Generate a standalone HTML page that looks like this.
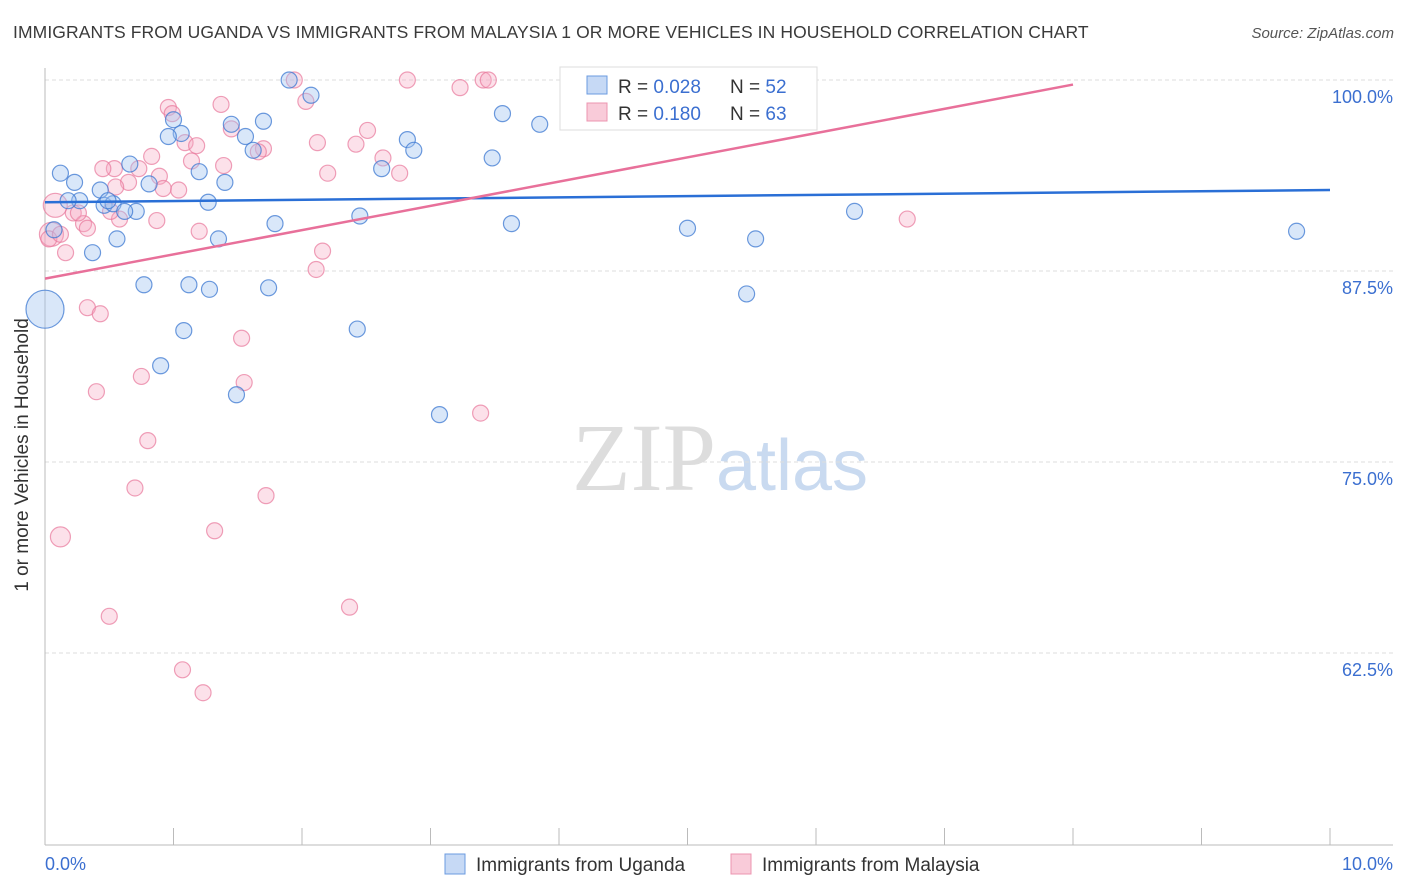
<!DOCTYPE html>
<html><head><meta charset="utf-8"><style>
body{margin:0;background:#fff;font-family:"Liberation Sans",sans-serif;}
#wrap{position:relative;width:1406px;height:892px;overflow:hidden;}
.title{position:absolute;left:13px;top:22px;font-size:17.5px;color:#3a3a3a;letter-spacing:0.1px}
.src{position:absolute;right:12px;top:25px;font-size:15px;color:#555;font-style:italic}
</style></head><body>
<div id="wrap">
<div class="title">IMMIGRANTS FROM UGANDA VS IMMIGRANTS FROM MALAYSIA 1 OR MORE VEHICLES IN HOUSEHOLD CORRELATION CHART</div>
<div class="src">Source: ZipAtlas.com</div>
<svg id="svg" width="1406" height="892" style="position:absolute;left:0;top:0">
<text x="720" y="490" text-anchor="middle" font-family="Liberation Serif" font-size="96" fill="#ddd">ZIP<tspan fill="#c9daf0" font-family="Liberation Sans" font-size="72">atlas</tspan></text>
<g id="grid"></g><g id="pts"></g><g id="lines"></g>
<text x="28" y="455" transform="rotate(-90 28 455)" text-anchor="middle" font-size="19" fill="#333">1 or more Vehicles in Household</text>
<text x="45" y="870" font-size="18" fill="#3b6fd0">0.0%</text>
<text x="1393" y="870" text-anchor="end" font-size="18" fill="#3b6fd0">10.0%</text>
<g>
<rect x="560" y="67" width="257" height="63" fill="#fff" stroke="#ddd"/>
<rect x="587" y="76" width="20" height="18" fill="#c6d9f5" stroke="#6b9be0"/>
<rect x="587" y="103" width="20" height="18" fill="#f9cbd9" stroke="#ec94b0"/>
<text x="618" y="93" font-size="19" fill="#333">R = <tspan fill="#3b6fd0">0.028</tspan><tspan x="730">N = </tspan><tspan fill="#3b6fd0">52</tspan></text>
<text x="618" y="120" font-size="19" fill="#333">R = <tspan fill="#3b6fd0">0.180</tspan><tspan x="730">N = </tspan><tspan fill="#3b6fd0">63</tspan></text>
</g>
<g>
<rect x="445" y="854" width="20" height="20" fill="#c6d9f5" stroke="#6b9be0"/>
<text x="476" y="871" font-size="19" fill="#333">Immigrants from Uganda</text>
<rect x="731" y="854" width="20" height="20" fill="#f9cbd9" stroke="#ec94b0"/>
<text x="762" y="871" font-size="19" fill="#333">Immigrants from Malaysia</text>
</g>
</svg>
</div>
<script>
const yTicks=[100,87.5,75,62.5];
const yTickLabels=["100.0%","87.5%","75.0%","62.5%"];
const xTicks=[0,1,2,3,4,5,6,7,8,9,10];
// values: x in %, y in %
const ugandaX=[1.90,2.07,3.56,3.85,1.70,1.06,0.96,1.00,1.45,1.56,1.62,2.82,2.87,3.48,2.62,1.20,0.66,0.81,0.43,0.27,0.18,0.46,0.53,0.71,1.79,3.63,5.00,1.35,0.12,0.37,0.62,2.45,6.30,1.27,1.40,0.23,0.07,0.56,5.53,9.74,0.00,0.77,1.12,1.28,1.74,5.46,1.08,2.43,0.90,1.49,3.07,0.49];
const ugandaY=[100,99.0,97.8,97.1,97.3,96.5,96.3,97.4,97.1,96.3,95.4,96.1,95.4,94.9,94.2,94.0,94.5,93.2,92.8,92.1,92.1,91.8,91.9,91.4,90.6,90.6,90.3,89.6,93.9,88.7,91.4,91.1,91.4,92.0,93.3,93.3,90.2,89.6,89.6,90.1,85.0,86.6,86.6,86.3,86.4,86.0,83.6,83.7,81.3,79.4,78.1,92.1];
const ugandaR=[8,8,8,8,8,8,8,8,8,8,8,8,8,8,8,8,8,8,8,8,8,8,8,8,8,8,8,8,8,8,8,8,8,8,8,8,8,8,8,8,19,8,8,8,8,8,8,8,8,8,8,8];
const malaysiaX=[1.94,2.82,3.41,3.45,3.23,2.03,1.37,0.96,0.99,1.45,2.12,2.42,2.51,1.70,1.66,1.09,1.18,1.14,0.83,0.54,0.45,0.73,1.39,2.63,2.76,2.20,0.89,0.65,0.55,1.04,0.92,0.08,0.22,0.30,0.33,0.58,0.87,1.20,6.71,0.05,0.03,0.16,2.16,2.11,0.33,0.43,1.53,0.75,1.55,0.40,0.80,3.39,0.70,1.72,1.32,0.12,2.37,0.50,1.07,1.23,0.26,0.51,0.12];
const malaysiaY=[100,100,100,100,99.5,98.6,98.4,98.2,97.8,96.8,95.9,95.8,96.7,95.5,95.3,95.9,95.7,94.7,95.0,94.2,94.2,94.2,94.4,94.9,93.9,93.9,93.7,93.3,93.0,92.8,92.9,91.8,91.3,90.6,90.3,90.9,90.8,90.1,90.9,89.9,89.6,88.7,88.8,87.6,85.1,84.7,83.1,80.6,80.2,79.6,76.4,78.2,73.3,72.8,70.5,70.1,65.5,64.9,61.4,59.9,91.3,91.4,89.9];
const malaysiaR=[8,8,8,8,8,8,8,8,8,8,8,8,8,8,8,8,8,8,8,8,8,8,8,8,8,8,8,8,8,8,8,12,8,8,8,8,8,8,8,12,8,8,8,8,8,8,8,8,8,8,8,8,8,8,8,10,8,8,8,8,8,8,8];
const ugandaTrend=[0,92.0,10,92.8];
const malaysiaTrend=[0,87.0,8,99.7];
const sx=v=>45+v*128.5;
const sy=v=>80+(100-v)*15.28;
const NS="http://www.w3.org/2000/svg";
function mk(t,a,p){const e=document.createElementNS(NS,t);for(const k in a)e.setAttribute(k,a[k]);p.appendChild(e);return e;}
const grid=document.getElementById('grid'),pts=document.getElementById('pts'),lines=document.getElementById('lines');
yTicks.forEach((v,i)=>{
 const l=mk('line',{x1:45,x2:1393,y1:sy(v),y2:sy(v),stroke:'#ddd','stroke-dasharray':'4,3'},grid);
 
 
 const t=mk('text',{x:1393,y:sy(v)+23,'text-anchor':'end','font-size':18,fill:'#3b6fd0'},grid);
 t.textContent=yTickLabels[i];
 
 
});
const ax=mk('line',{x1:45,x2:45,y1:68,y2:845,stroke:'#bbb'},grid);


const bx=mk('line',{x1:45,x2:1393,y1:845,y2:845,stroke:'#bbb'},grid);


xTicks.forEach(v=>{
 const l=mk('line',{x1:sx(v),x2:sx(v),y1:828,y2:845,stroke:'#bbb'},grid);
 
 
});
function drawPts(X,Y,R,fill,stroke,name){
 X.forEach((x,i)=>{
  const c=mk('circle',{cx:sx(x),cy:sy(Y[i]),r:R[i],fill:fill,stroke:stroke,'stroke-width':1.2},pts);
  
  
 });
}
drawPts(malaysiaX,malaysiaY,malaysiaR,'rgba(246,170,195,0.35)','rgba(232,120,155,0.7)','malaysia-point');
drawPts(ugandaX,ugandaY,ugandaR,'rgba(160,195,240,0.4)','rgba(60,120,210,0.75)','uganda-point');
const tu=mk('line',{x1:sx(ugandaTrend[0]),y1:sy(ugandaTrend[1]),x2:sx(ugandaTrend[2]),y2:sy(ugandaTrend[3]),stroke:'#2a6fd6','stroke-width':2.5},lines);


const tm=mk('line',{x1:sx(malaysiaTrend[0]),y1:sy(malaysiaTrend[1]),x2:sx(malaysiaTrend[2]),y2:sy(malaysiaTrend[3]),stroke:'#e8709a','stroke-width':2.5},lines);


</script>
</body></html>
